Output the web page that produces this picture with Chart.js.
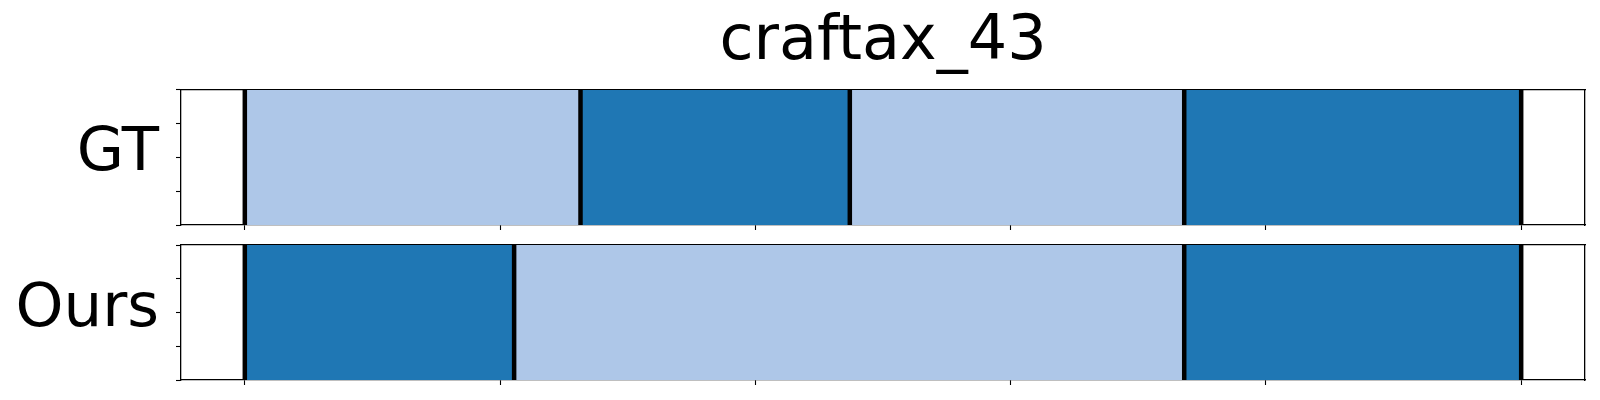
<!DOCTYPE html>
<html>
<head>
<meta charset="utf-8">
<script src="https://cdn.jsdelivr.net/npm/chart.js@4.4.1/dist/chart.umd.min.js"></script>
<style>
  html, body { margin: 0; padding: 0; background: #fff; }
  #wrap { position: relative; width: 1600px; height: 400px; }
  .panel { position: absolute; left: 0; width: 1600px; }
  #panel-gt { top: 0; height: 235px; }
  #panel-ours { top: 235px; height: 165px; }
</style>
</head>
<body>
<div id="wrap">
  <div class="panel" id="panel-gt"><canvas id="chart-gt"></canvas></div>
  <div class="panel" id="panel-ours"><canvas id="chart-ours"></canvas></div>
</div>
<script>
// Segment timeline: GT vs Ours, two phases alternating

const chartTitle = 'craftax_43';
const xTicks = [0, 20, 40, 60, 80, 100];
const yTicks = [0, 0.25, 0.5, 0.75, 1];
const rowLabels = ['GT', 'Ours'];

// segment boundaries and phase of each segment (0 = light, 1 = dark)
const gtBounds = [0, 26.3, 47.4, 73.6, 100];
const gtPhases = [0, 1, 0, 1];
const oursBounds = [0, 21.1, 73.6, 100];
const oursPhases = [1, 0, 1];

const phaseColors = ['#aec7e8', '#1f77b4'];
const FONT = 'DejaVu Sans';

function segmentDatasets(bounds, phases) {
  const segs = phases.map((p, i) => ({
    data: [{ x: bounds[i], y: 1 }, { x: bounds[i + 1], y: 1 }],
    fill: 'origin',
    backgroundColor: phaseColors[p],
    borderWidth: 0,
    pointRadius: 0,
    order: 1
  }));
  const lines = bounds.map(b => ({
    data: [{ x: b, y: 0 }, { x: b, y: 1 }],
    fill: false,
    borderColor: '#000',
    borderWidth: 4.5,
    pointRadius: 0,
    order: 0
  }));
  return lines.concat(segs);
}

function buildPanel(canvasId, label, bounds, phases, cfg) {
  const ctx = document.getElementById(canvasId);
  return new Chart(ctx, {
    type: 'line',
    data: { datasets: segmentDatasets(bounds, phases) },
    options: {
      responsive: true,
      maintainAspectRatio: false,
      animation: false,
      layout: { padding: { left: 0, right: 15, top: cfg.padTop, bottom: 0 } },
      plugins: {
        legend: { display: false },
        tooltip: { enabled: false },
        title: {
          display: cfg.showTitle,
          text: chartTitle,
          fullSize: false,
          color: '#000',
          font: { family: FONT, size: 62, weight: 'normal' },
          padding: { top: 6, bottom: 9.6 }
        }
      },
      scales: {
        x: {
          type: 'linear',
          min: -5,
          max: 105,
          afterBuildTicks: s => { s.ticks = xTicks.map(v => ({ value: v })); },
          afterFit: s => { s.height = cfg.xAxisHeight; },
          ticks: { display: false },
          grid: { drawOnChartArea: false, drawTicks: true, tickLength: 5, tickColor: '#000', tickWidth: 1.1 },
          border: { display: true, color: '#000', width: 1.3 }
        },
        y: {
          type: 'linear',
          min: 0,
          max: 1,
          afterBuildTicks: s => { s.ticks = yTicks.map(v => ({ value: v })); },
          afterFit: s => { s.width = 181; s.paddingTop = 0; s.paddingBottom = 0; },
          ticks: {
            autoSkip: false,
            color: '#000',
            padding: 17,
            labelOffset: cfg.labelOffset,
            font: c => ({ family: FONT, size: c.tick && c.tick.value === 0.5 ? 61 : 1 }),
            callback: v => (v === 0.5 ? label : '')
          },
          grid: { drawOnChartArea: false, drawTicks: true, tickLength: 5, tickColor: '#000', tickWidth: 1.1 },
          border: { display: true, color: '#000', width: 1.3 }
        },
        x2: {
          type: 'linear',
          position: 'top',
          min: -5,
          max: 105,
          afterFit: s => { s.height = 0; },
          ticks: { display: false },
          grid: { display: false },
          border: { display: true, color: '#000', width: 1.3 }
        },
        y2: {
          type: 'linear',
          position: 'right',
          min: 0,
          max: 1,
          afterFit: s => { s.width = 0; },
          ticks: { display: false },
          grid: { display: false },
          border: { display: true, color: '#000', width: 1.3 }
        }
      }
    }
  });
}

buildPanel('chart-gt', rowLabels[0], gtBounds, gtPhases, { showTitle: true, padTop: 0, xAxisHeight: 10, labelOffset: -3 });
buildPanel('chart-ours', rowLabels[1], oursBounds, oursPhases, { showTitle: false, padTop: 10, xAxisHeight: 20, labelOffset: -2 });
</script>
</body>
</html>
